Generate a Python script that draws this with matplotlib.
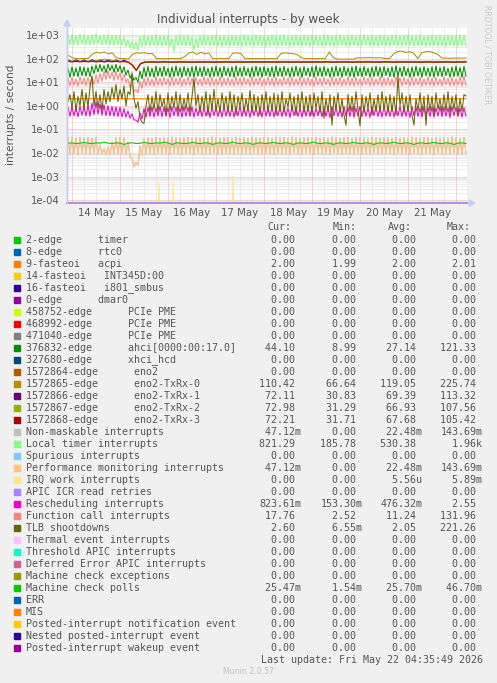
import numpy as np
import matplotlib
matplotlib.use("Agg")
import matplotlib.pyplot as plt
from matplotlib.patches import Rectangle, Polygon

# ---------------- data ----------------
day_labels = ["14 May", "15 May", "16 May", "17 May", "18 May", "19 May", "20 May", "21 May"]
ytick_labels = ["1e-04", "1e-03", "1e-02", "1e-01", "1e+00", "1e+01", "1e+02", "1e+03"]

# hourly samples, hours relative to 14 May 00:00 (start at -2 h)
T_START, T_END = -2, 197

local_timer_hi = [
    950, 1020, 900, 1080, 980, 930, 1010, 1100, 960, 1030,
    990, 920, 1000, 950, 820, 620, 540, 500, 820, 980,
    880, 960, 1010, 870, 950, 900, 720, 940, 1000, 890,
    980, 780, 720, 940, 1010, 880, 950, 1020, 910, 980,
    890, 1000, 950, 860, 1010, 940, 900, 1020, 970, 910,
    950, 1000, 880, 950, 1020, 870, 940, 1000, 920, 990,
    890, 1010, 950, 900, 1000, 980, 910, 950, 1020, 880,
    950, 1010, 870, 950, 1000, 920, 980, 890, 1010, 950,
    900, 1000, 980, 910, 950, 1020, 890, 950, 1000, 870,
    950, 1010, 920, 980, 900, 1000, 950, 890, 1010, 980]
local_timer_lo = [
    380, 400, 360, 420, 390, 370, 410, 440, 380, 400,
    380, 360, 390, 370, 330, 290, 250, 230, 320, 360,
    340, 360, 350, 330, 350, 340, 190, 350, 360, 340,
    350, 230, 300, 340, 360, 330, 350, 340, 320, 350,
    330, 360, 340, 320, 350, 340, 330, 360, 340, 320,
    340, 350, 330, 340, 360, 320, 340, 350, 330, 340,
    320, 360, 340, 330, 350, 340, 320, 340, 360, 330,
    340, 350, 320, 340, 360, 330, 340, 320, 350, 340,
    330, 360, 340, 320, 340, 350, 330, 340, 360, 320,
    340, 350, 330, 340, 320, 360, 340, 330, 350, 340]

txrx0 = [
    140, 110, 100, 100, 102, 100, 150, 185, 170, 190,
    160, 175, 110, 100, 100, 95, 150, 175, 170, 180,
    160, 165, 100, 100, 98, 100, 100, 100, 100, 120,
    170, 190, 150, 185, 160, 175, 100, 100, 100, 100,
    100, 170, 175, 165, 100, 100, 100, 100, 100, 100,
    100, 100, 100, 165, 175, 170, 160, 150, 110, 100,
    100, 100, 100, 100, 100, 190, 110, 95, 95, 95,
    95, 95, 108, 108, 108, 110, 108, 108, 108, 100,
    100, 160, 200, 210, 185, 195, 170, 100, 180, 195,
    200, 175, 150, 105, 105, 104, 105, 106, 105, 108]
txrx1 = [
    88, 74, 88, 75, 87, 74, 89, 75, 88, 74,
    87, 75, 88, 74, 86, 70, 55, 31, 60, 70,
    71, 72, 71, 70, 72, 71, 70, 71, 72, 71,
    70, 71, 72, 71, 70, 72, 71, 70, 71, 72,
    71, 70, 72, 71, 70, 71, 72, 71, 70, 71,
    72, 71, 70, 72, 71, 70, 71, 72, 71, 70,
    71, 72, 71, 70, 72, 71, 70, 71, 72, 71,
    70, 71, 72, 71, 70, 72, 71, 70, 71, 72,
    71, 70, 72, 71, 70, 71, 72, 71, 70, 71,
    72, 71, 70, 72, 71, 70, 71, 72, 71, 72]
txrx2 = [
    76, 78, 75, 77, 76, 78, 77, 79, 90, 95,
    92, 85, 77, 76, 75, 72, 55, 32, 62, 71,
    71, 70, 72, 71, 70, 71, 72, 71, 70, 71,
    72, 71, 70, 72, 71, 70, 71, 72, 71, 70,
    71, 72, 71, 70, 72, 71, 70, 71, 72, 71,
    70, 71, 72, 71, 70, 72, 71, 70, 71, 72,
    71, 70, 72, 71, 70, 71, 72, 71, 70, 71,
    72, 71, 70, 72, 71, 70, 71, 72, 71, 70,
    71, 72, 71, 70, 72, 71, 70, 71, 72, 71,
    70, 71, 72, 71, 70, 72, 71, 70, 71, 73]
txrx3 = [
    76, 72, 77, 72, 76, 73, 77, 72, 76, 72,
    77, 73, 76, 72, 75, 70, 52, 32, 60, 70,
    72, 72, 71, 72, 73, 72, 71, 72, 72, 73,
    72, 71, 72, 72, 73, 72, 71, 72, 72, 73,
    72, 71, 72, 72, 73, 72, 71, 72, 72, 73,
    72, 71, 72, 72, 73, 72, 71, 72, 72, 73,
    72, 71, 72, 72, 73, 72, 71, 72, 72, 73,
    72, 71, 72, 72, 73, 72, 71, 72, 72, 73,
    72, 71, 72, 72, 73, 72, 71, 72, 72, 73,
    72, 71, 72, 72, 73, 72, 71, 72, 72, 72]

ahci_hi = [
    38, 44, 40, 46, 43, 41, 48, 53, 56, 50,
    58, 52, 57, 50, 45, 33, 21, 16, 30, 42,
    46, 40, 48, 42, 47, 39, 44, 49, 41, 46,
    40, 45, 49, 42, 46, 39, 44, 48, 42, 47,
    40, 45, 50, 41, 46, 39, 44, 48, 43, 46,
    40, 45, 49, 42, 47, 39, 44, 48, 41, 46,
    40, 45, 50, 42, 46, 39, 44, 48, 42, 47,
    40, 45, 49, 41, 46, 39, 44, 48, 43, 46,
    40, 45, 50, 42, 47, 39, 44, 48, 41, 46,
    40, 45, 49, 42, 46, 39, 44, 48, 42, 47]
ahci_lo = [
    16, 18, 17, 19, 18, 17, 23, 27, 29, 25,
    31, 26, 28, 24, 20, 15, 12, 10, 14, 17,
    17, 16, 18, 17, 19, 16, 17, 18, 16, 19,
    17, 16, 18, 17, 19, 16, 17, 18, 16, 19,
    17, 16, 18, 17, 19, 16, 17, 18, 16, 19,
    17, 16, 18, 17, 19, 16, 17, 18, 16, 19,
    17, 16, 18, 17, 19, 16, 17, 18, 16, 19,
    17, 16, 18, 17, 19, 16, 17, 18, 16, 19,
    17, 16, 18, 17, 19, 16, 17, 18, 16, 19,
    17, 16, 18, 17, 19, 16, 17, 18, 16, 18]

funccall_hi = [
    15, 16, 14, 17, 15, 16, 18, 20, 24, 28,
    30, 26, 29, 25, 22, 14, 8, 5, 11, 15,
    16, 14, 17, 15, 16, 14, 17, 15, 16, 14,
    17, 15, 16, 14, 17, 15, 16, 14, 17, 15,
    16, 14, 17, 15, 16, 14, 17, 15, 16, 14,
    17, 15, 16, 14, 17, 15, 16, 14, 17, 15,
    16, 14, 17, 15, 16, 14, 17, 15, 16, 14,
    17, 15, 16, 14, 17, 15, 16, 14, 17, 15,
    16, 14, 17, 15, 16, 14, 17, 15, 16, 14,
    17, 15, 16, 14, 17, 15, 16, 14, 17, 18]
funccall_lo = [
    7.0, 7.5, 6.8, 8.0, 7.2, 7.0, 8.0, 9.0, 11, 13,
    14, 12, 13, 11, 10, 6.0, 4.0, 3.5, 5.5, 7.0,
    7.2, 6.8, 7.5, 7.0, 7.8, 6.9, 7.2, 7.6, 6.8, 7.4,
    7.2, 6.8, 7.5, 7.0, 7.8, 6.9, 7.2, 7.6, 6.8, 7.4,
    7.2, 6.8, 7.5, 7.0, 7.8, 6.9, 7.2, 7.6, 6.8, 7.4,
    7.2, 6.8, 7.5, 7.0, 7.8, 6.9, 7.2, 7.6, 6.8, 7.4,
    7.2, 6.8, 7.5, 7.0, 7.8, 6.9, 7.2, 7.6, 6.8, 7.4,
    7.2, 6.8, 7.5, 7.0, 7.8, 6.9, 7.2, 7.6, 6.8, 7.4,
    7.2, 6.8, 7.5, 7.0, 7.8, 6.9, 7.2, 7.6, 6.8, 7.4,
    7.2, 6.8, 7.5, 7.0, 7.8, 6.9, 7.2, 7.6, 6.8, 7.4]

acpi = [2.00, 2.00, 1.99, 2.00, 2.01, 2.00, 2.00, 2.00, 1.99, 2.00, 2.00, 2.00]

tlb = [
    1.5, 3.0, 0.8, 4.0, 0.6, 2.5, 1.0, 5.0, 0.7, 3.5, 0.9, 6.0, 18.0, 1.0, 4.0, 0.8, 3.0, 0.6, 5.0, 1.2,
    4.0, 1.5, 6.0, 2.0, 8.0, 1.5, 5.0, 2.0, 7.0, 1.0, 4.0, 3.0, 25.0, 2.0, 0.8, 1.5, 0.3, 0.2, 0.18, 1.0,
    3.0, 0.5, 2.5, 0.7, 4.0, 0.5, 3.0, 0.9, 2.0, 0.4, 3.5, 0.6, 2.5, 0.8, 4.0, 0.5, 3.0, 0.6, 2.0, 0.7,
    3.5, 0.5, 2.5, 14.0, 1.0, 3.0, 0.5, 2.5, 0.8, 4.0, 0.4, 3.0, 0.7, 5.0, 0.6, 2.0, 0.5, 3.5, 0.8, 2.5,
    0.5, 4.0, 0.6, 3.0, 0.4, 2.5, 0.9, 3.5, 0.5, 2.0, 0.7, 4.5, 0.5, 3.0, 0.6, 2.5, 0.4, 3.0, 0.8, 4.0,
    0.5, 2.5, 0.7, 3.5, 0.4, 3.0, 0.6, 4.0, 0.5, 2.0, 0.9, 3.5, 0.6, 2.5, 0.4, 3.0, 0.7, 4.0, 0.5, 2.5,
    0.6, 3.0, 0.4, 3.5, 0.8, 2.5, 0.5, 4.0, 0.3, 2.0, 0.6, 3.0, 0.15, 2.5, 0.7, 3.5, 0.5, 2.0, 0.4, 0.15,
    3.0, 0.6, 2.5, 0.5, 4.0, 0.7, 0.14, 3.0, 0.5, 2.5, 0.8, 3.5, 0.4, 2.0, 0.6, 3.0, 0.5, 4.0, 0.7, 2.5,
    0.5, 3.0, 0.6, 2.5, 0.4, 18.0, 1.0, 3.5, 0.5, 2.5, 0.6, 3.0, 0.4, 0.15, 2.0, 0.6, 3.5, 0.5, 2.5, 0.15,
    3.0, 0.6, 2.5, 0.4, 3.5, 0.7, 2.0, 0.5, 3.0, 0.6, 4.0, 0.5, 2.5, 0.7, 3.0, 0.4, 2.0, 0.6, 3.0, 2.6]

resched_hi = [
    0.85, 0.90, 0.80, 0.95, 0.90, 1.00, 1.30, 1.50, 1.20, 1.10,
    1.00, 0.95, 0.90, 0.85, 0.75, 0.60, 0.45, 0.25, 0.50, 0.75,
    0.85, 0.90, 0.80, 0.95, 0.88, 0.82, 0.92, 0.86, 0.80, 0.94,
    0.85, 0.90, 0.80, 0.95, 0.88, 0.82, 0.92, 0.86, 0.80, 0.94,
    0.85, 0.90, 0.80, 0.95, 0.88, 0.82, 0.92, 0.86, 0.80, 0.94,
    0.85, 0.90, 0.80, 0.95, 0.88, 0.82, 0.92, 0.86, 0.80, 0.94,
    0.85, 0.90, 0.80, 0.95, 0.88, 0.82, 0.92, 0.86, 0.80, 0.94,
    0.85, 0.90, 0.80, 0.95, 0.88, 0.82, 0.92, 0.86, 0.80, 0.94,
    0.85, 0.90, 0.80, 0.95, 0.88, 0.82, 0.92, 0.86, 0.80, 0.94,
    0.85, 0.90, 0.80, 0.95, 0.88, 0.82, 0.92, 0.86, 0.80, 0.82]
resched_lo = [
    0.36, 0.38, 0.34, 0.40, 0.37, 0.36, 0.42, 0.45, 0.40, 0.38,
    0.37, 0.36, 0.35, 0.34, 0.33, 0.30, 0.25, 0.20, 0.28, 0.33,
    0.35, 0.33, 0.37, 0.34, 0.36, 0.32, 0.38, 0.35, 0.33, 0.36,
    0.35, 0.33, 0.37, 0.34, 0.36, 0.32, 0.38, 0.35, 0.33, 0.36,
    0.35, 0.33, 0.37, 0.34, 0.36, 0.32, 0.38, 0.35, 0.33, 0.36,
    0.35, 0.33, 0.37, 0.34, 0.36, 0.32, 0.38, 0.35, 0.33, 0.36,
    0.35, 0.33, 0.37, 0.34, 0.36, 0.32, 0.38, 0.35, 0.33, 0.36,
    0.35, 0.33, 0.37, 0.34, 0.36, 0.32, 0.38, 0.35, 0.33, 0.36,
    0.35, 0.33, 0.37, 0.34, 0.36, 0.32, 0.38, 0.35, 0.33, 0.36,
    0.35, 0.33, 0.37, 0.34, 0.36, 0.32, 0.38, 0.35, 0.33, 0.36]

perf_hi = [
    0.045, 0.048, 0.042, 0.047, 0.044, 0.046, 0.043, 0.047, 0.022, 0.016,
    0.018, 0.030, 0.044, 0.046, 0.043, 0.030, 0.006, 0.004, 0.020, 0.040,
    0.045, 0.042, 0.047, 0.044, 0.046, 0.043, 0.048, 0.044, 0.042, 0.046,
    0.045, 0.042, 0.047, 0.044, 0.046, 0.043, 0.048, 0.044, 0.042, 0.046,
    0.045, 0.042, 0.047, 0.044, 0.046, 0.043, 0.048, 0.044, 0.042, 0.046,
    0.045, 0.042, 0.047, 0.044, 0.046, 0.043, 0.048, 0.044, 0.042, 0.046,
    0.045, 0.042, 0.047, 0.044, 0.046, 0.043, 0.048, 0.044, 0.042, 0.046,
    0.045, 0.042, 0.047, 0.044, 0.046, 0.043, 0.048, 0.044, 0.042, 0.046,
    0.045, 0.042, 0.047, 0.044, 0.046, 0.043, 0.048, 0.044, 0.042, 0.046,
    0.045, 0.042, 0.047, 0.044, 0.046, 0.043, 0.048, 0.044, 0.042, 0.047]
perf_lo = [
    0.0090, 0.0095, 0.0085, 0.0100, 0.0090, 0.0088, 0.0095, 0.0092, 0.0090, 0.0085,
    0.0088, 0.0092, 0.0090, 0.0095, 0.0088, 0.0070, 0.0026, 0.0030, 0.0080, 0.0090,
    0.0092, 0.0086, 0.0098, 0.0090, 0.0094, 0.0087, 0.0100, 0.0091, 0.0088, 0.0095,
    0.0092, 0.0086, 0.0098, 0.0090, 0.0094, 0.0087, 0.0100, 0.0091, 0.0088, 0.0095,
    0.0092, 0.0086, 0.0098, 0.0090, 0.0094, 0.0087, 0.0100, 0.0091, 0.0088, 0.0095,
    0.0092, 0.0086, 0.0098, 0.0090, 0.0094, 0.0087, 0.0100, 0.0091, 0.0088, 0.0095,
    0.0092, 0.0086, 0.0098, 0.0090, 0.0094, 0.0087, 0.0100, 0.0091, 0.0088, 0.0095,
    0.0092, 0.0086, 0.0098, 0.0090, 0.0094, 0.0087, 0.0100, 0.0091, 0.0088, 0.0095,
    0.0092, 0.0086, 0.0098, 0.0090, 0.0094, 0.0087, 0.0100, 0.0091, 0.0088, 0.0095,
    0.0092, 0.0086, 0.0098, 0.0090, 0.0094, 0.0087, 0.0100, 0.0091, 0.0088, 0.0095]
# Non-maskable interrupts carry the same values as performance monitoring
nmi_hi = perf_hi
nmi_lo = perf_lo

mc_polls = [
    0.026, 0.027, 0.025, 0.026, 0.028, 0.026, 0.025, 0.027, 0.026, 0.029,
    0.026, 0.025, 0.027, 0.026, 0.023, 0.026, 0.027, 0.025, 0.026, 0.028,
    0.026, 0.025, 0.027, 0.026, 0.029, 0.026, 0.023, 0.027, 0.026, 0.025,
    0.026, 0.028, 0.026, 0.025, 0.027, 0.026, 0.023, 0.026, 0.027, 0.025,
    0.026, 0.029, 0.026, 0.025, 0.027, 0.026, 0.023, 0.026, 0.027, 0.025,
    0.026, 0.028, 0.026, 0.025, 0.027, 0.026, 0.023, 0.026, 0.027, 0.025,
    0.026, 0.029, 0.026, 0.025, 0.027, 0.026, 0.023, 0.026, 0.027, 0.025,
    0.026, 0.028, 0.026, 0.025, 0.027, 0.026, 0.023, 0.026, 0.027, 0.025,
    0.026, 0.029, 0.026, 0.025, 0.027, 0.026, 0.023, 0.026, 0.027, 0.025,
    0.026, 0.028, 0.026, 0.025, 0.027, 0.026, 0.023, 0.026, 0.027, 0.025]

irq_work_t = [42.8, 43.5, 44.2, 49.8, 50.5, 51.2, 79.8, 80.5, 81.2]
irq_work_v = [0.0, 0.0006, 0.0, 0.0, 0.0006, 0.0, 0.0, 0.0011, 0.0]

# ---------------- legend ----------------
labels = [
    "2-edge      timer", "8-edge      rtc0", "9-fasteoi   acpi",
    "14-fasteoi   INT345D:00", "16-fasteoi   i801_smbus", "0-edge      dmar0",
    "458752-edge      PCIe PME", "468992-edge      PCIe PME", "471040-edge      PCIe PME",
    "376832-edge      ahci[0000:00:17.0]", "327680-edge      xhci_hcd",
    "1572864-edge      eno2", "1572865-edge      eno2-TxRx-0",
    "1572866-edge      eno2-TxRx-1", "1572867-edge      eno2-TxRx-2",
    "1572868-edge      eno2-TxRx-3", "Non-maskable interrupts", "Local timer interrupts",
    "Spurious interrupts", "Performance monitoring interrupts", "IRQ work interrupts",
    "APIC ICR read retries", "Rescheduling interrupts", "Function call interrupts",
    "TLB shootdowns", "Thermal event interrupts", "Threshold APIC interrupts",
    "Deferred Error APIC interrupts", "Machine check exceptions", "Machine check polls",
    "ERR", "MIS", "Posted-interrupt notification event", "Nested posted-interrupt event",
    "Posted-interrupt wakeup event"]
colors = [
    "#00CC00", "#0066B3", "#FF8000", "#FFCC00", "#330099", "#990099", "#CCFF00",
    "#FF0000", "#808080", "#008F00", "#00487D", "#B35A00", "#B38F00", "#6B006B",
    "#8FB300", "#B30000", "#BEBEBE", "#80FF80", "#80C9FF", "#FFC080", "#FFE680",
    "#AA80FF", "#EE00CC", "#FF8080", "#666600", "#FFBFFF", "#00FFCC", "#CC6699",
    "#999900", "#00CC00", "#0066B3", "#FF8000", "#FFCC00", "#330099", "#990099"]
Z = "0.00"
cur_vals = [Z, Z, "2.00", Z, Z, Z, Z, Z, Z, "44.10", Z, Z, "110.42", "72.11", "72.98", "72.21",
            "47.12m", "821.29", Z, "47.12m", Z, Z, "823.61m", "17.76", "2.60", Z, Z, Z, Z,
            "25.47m", Z, Z, Z, Z, Z]
min_vals = [Z, Z, "1.99", Z, Z, Z, Z, Z, Z, "8.99", Z, Z, "66.64", "30.83", "31.29", "31.71",
            Z, "185.78", Z, Z, Z, Z, "153.30m", "2.52", "6.55m", Z, Z, Z, Z,
            "1.54m", Z, Z, Z, Z, Z]
avg_vals = [Z, Z, "2.00", Z, Z, Z, Z, Z, Z, "27.14", Z, Z, "119.05", "69.39", "66.93", "67.68",
            "22.48m", "530.38", Z, "22.48m", "5.56u", Z, "476.32m", "11.24", "2.05", Z, Z, Z, Z,
            "25.70m", Z, Z, Z, Z, Z]
max_vals = [Z, Z, "2.01", Z, Z, Z, Z, Z, Z, "121.33", Z, Z, "225.74", "113.32", "107.56", "105.42",
            "143.69m", "1.96k", Z, "143.69m", "5.89m", Z, "2.55", "131.96", "221.26", Z, Z, Z, Z,
            "46.70m", Z, Z, Z, Z, Z]

# ---------------- figure ----------------
W, H = 497, 683
BG = "#F0F0F0"
TXT = "#555555"
fig = plt.figure(figsize=(W / 100, H / 100), dpi=100, facecolor=BG)


def fx(px):
    return px / W


def fy(py):
    return 1 - py / H


ax = fig.add_axes([fx(67), fy(203), 400 / W, 175 / H])
ax.set_facecolor("white")
ax.set_yscale("log")
ax.set_xlim(-2.5, 197.5)
ylo, yhi = 10 ** -4.119, 10 ** 3.297
ax.set_ylim(ylo, yhi)

# grid
dot = (0, (1, 1))
for d in range(-5, 4):
    for m in range(2, 10):
        v = m * 10.0 ** d
        if ylo < v < yhi:
            ax.axhline(v, color="#DADADA", lw=0.72, ls=dot, zorder=0.5)
    if ylo < 10.0 ** d < yhi:
        ax.axhline(10.0 ** d, color="#F0A8A8", lw=0.72, ls=dot, zorder=0.6)
for h in range(0, 198, 6):
    if h % 24 == 0:
        ax.axvline(h, color="#F0A8A8", lw=0.72, ls=dot, zorder=0.6)
    else:
        ax.axvline(h, color="#DADADA", lw=0.72, ls=dot, zorder=0.5)


def zigzag(hi, lo):
    y = np.empty(2 * len(hi))
    y[0::2] = hi
    y[1::2] = lo
    x = T_START + np.arange(len(y))
    return x, y


def even(vals):
    return np.linspace(T_START, T_END, len(vals)), np.asarray(vals, float)


LW = 0.75
series = []  # (legend index, x, y)
series.append((2, *even(acpi)))
series.append((9, *zigzag(ahci_hi, ahci_lo)))
series.append((12, *even(txrx0)))
series.append((13, *even(txrx1)))
series.append((14, *even(txrx2)))
series.append((15, *even(txrx3)))
series.append((16, *zigzag(nmi_hi, nmi_lo)))
series.append((17, *zigzag(local_timer_hi, local_timer_lo)))
series.append((19, *zigzag(perf_hi, perf_lo)))
series.append((20, np.asarray(irq_work_t), np.maximum(np.asarray(irq_work_v), 1e-6)))
series.append((22, *zigzag(resched_hi, resched_lo)))
series.append((23, *zigzag(funccall_hi, funccall_lo)))
series.append((24, np.linspace(T_START, T_END, len(tlb)), np.asarray(tlb)))
series.append((29, *even(mc_polls)))
for idx, x, y in series:
    ax.plot(x, y, color=colors[idx], lw=LW, zorder=2 + idx * 0.01)

# axes styling
for s in ("top", "right"):
    ax.spines[s].set_visible(False)
ax.spines["left"].set_color("#C8CCF4")
ax.spines["left"].set_linewidth(1.0)
ax.spines["bottom"].set_color("#B090D8")
ax.spines["bottom"].set_linewidth(1.4)
ax.spines["bottom"].set_zorder(5)

ax.yaxis.set_minor_locator(matplotlib.ticker.NullLocator())
ax.set_yticks([10.0 ** d for d in range(-4, 4)])
ax.set_yticklabels(ytick_labels)
ax.set_xticks([12 + 24 * i for i in range(len(day_labels))])
ax.set_xticklabels(day_labels)
ax.xaxis.set_minor_locator(matplotlib.ticker.NullLocator())
ax.tick_params(axis="y", length=0, pad=5, labelsize=7.3, labelcolor=TXT)
ax.tick_params(axis="x", length=0, pad=3.6, labelsize=7.3, labelcolor=TXT)

# arrows
arrow_c = "#C4CCF8"
fig.patches.append(Polygon([[fx(64), fy(26)], [fx(70), fy(26)], [fx(67), fy(20)]],
                           closed=True, color=arrow_c, transform=fig.transFigure))
fig.patches.append(Polygon([[fx(469), fy(200)], [fx(469), fy(206)], [fx(475), fy(203)]],
                           closed=True, color=arrow_c, transform=fig.transFigure))
fig.add_artist(matplotlib.lines.Line2D([fx(67), fx(67)], [fy(203), fy(24)], color="#C8CCF4",
                                       lw=1.0, transform=fig.transFigure))

# titles
fig.text(fx(248), fy(19), "Individual interrupts - by week", ha="center", va="center",
         fontsize=8.6, color="#505050")
fig.text(fx(11), fy(115), "interrupts / second", rotation=90, ha="center", va="center",
         fontsize=7.6, color=TXT)
fig.text(fx(487), fy(5), "RRDTOOL / TOBI OETIKER", rotation=-90, ha="center", va="top",
         fontsize=5.6, color="#C8C8C8")

# legend
MONO = "DejaVu Sans Mono"
FS = 7.2
fig.text(fx(267), fy(227), "Cur:", family=MONO, fontsize=FS, color=TXT, va="center")
fig.text(fx(333), fy(227), "Min:", family=MONO, fontsize=FS, color=TXT, va="center")
fig.text(fx(388), fy(227), "Avg:", family=MONO, fontsize=FS, color=TXT, va="center")
fig.text(fx(447), fy(227), "Max:", family=MONO, fontsize=FS, color=TXT, va="center")


def fmt(s):
    if s[-1].isalpha():
        return f"{s[:-1]:>6}{s[-1]}"
    return f"{s:>6} "


col_x = [259, 320.5, 380.5, 440.5]
for i, lab in enumerate(labels):
    yrow = 239.7 + 12.0 * i
    fig.patches.append(Rectangle((fx(14), fy(yrow + 3)), 6 / W, 6 / H, color=colors[i],
                                 transform=fig.transFigure))
    fig.text(fx(26), fy(yrow), lab, family=MONO, fontsize=FS, color=TXT, va="center")
    for cx, vals in zip(col_x, (cur_vals, min_vals, avg_vals, max_vals)):
        fig.text(fx(cx), fy(yrow), fmt(vals[i]), family=MONO, fontsize=FS, color=TXT,
                 va="center")

fig.text(fx(482.7), fy(660), "Last update: Fri May 22 04:35:49 2026", family=MONO,
         fontsize=FS, color=TXT, ha="right", va="center")
fig.text(fx(248), fy(672), "Munin 2.0.57", fontsize=5.6, color="#C0C0C0", ha="center",
         va="center")

fig.savefig("out.png", dpi=100, facecolor=BG)
